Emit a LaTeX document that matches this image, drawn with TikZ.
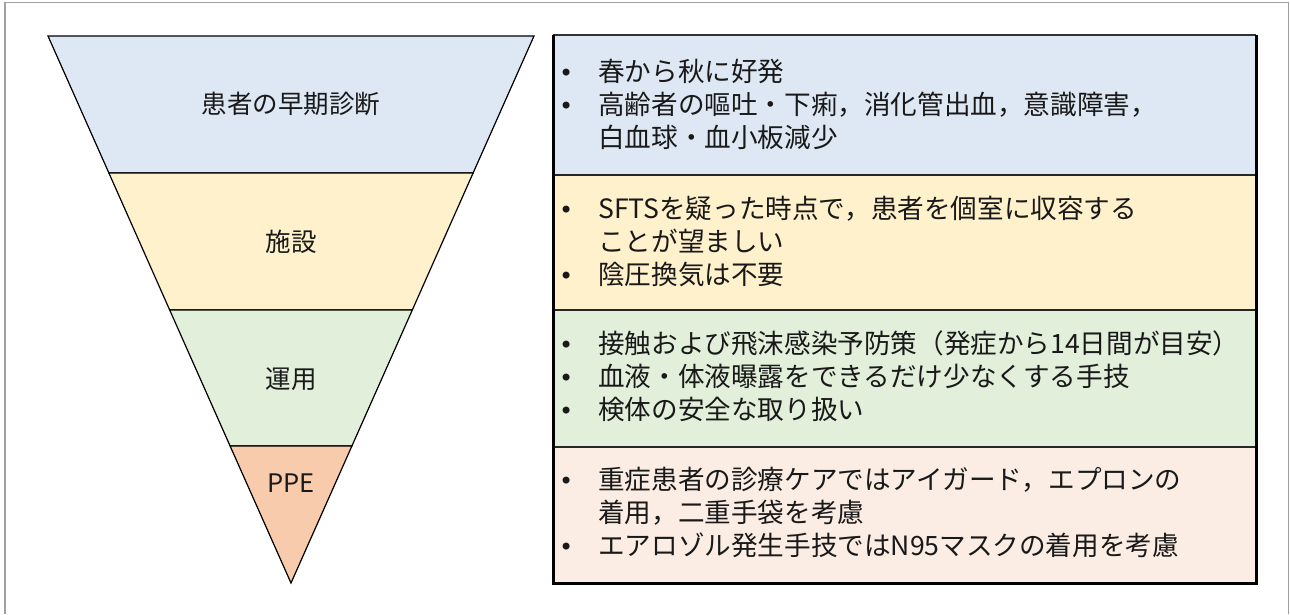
\documentclass[tikz,border=0pt]{standalone}
\usepackage{fontspec}
\setmainfont{Noto Sans CJK JP}
\newfontfamily\bulletfont{DejaVu Sans}
\usepackage{array}
\definecolor{blueF}{HTML}{DDE8F4}
\definecolor{yellowF}{HTML}{FFF1CC}
\definecolor{greenF}{HTML}{E2EFDA}
\definecolor{orangeT}{HTML}{F8CBAD}
\definecolor{orangeB}{HTML}{FBEDE4}
\definecolor{frameC}{HTML}{A0A0A0}
\newcommand{\bul}{\hspace*{1pt}{\fontsize{24}{24}\bulletfont •}}
\begin{document}
\begin{tikzpicture}[x=1pt,y=-1pt,
  band/.style={draw=black,line width=1.2pt,line join=miter},
  lbl/.style={inner sep=0pt,font=\fontsize{25.5}{30}\selectfont,text=black!90},
  txt/.style={inner sep=0pt,anchor=west,font=\fontsize{26.6}{33}\selectfont,text=black!90},
  sep/.style={draw=black!85,line width=1.8pt},
  heavy/.style={draw=black,line width=3pt}]
\useasboundingbox (0,0) rectangle (1290,614);
\fill[white] (0,0) rectangle (1290,614);
% outer frame
\draw[frameC,line width=1.5pt] (5,614) -- (5,2.5) -- (1288.5,2.5) -- (1288.5,614);
% funnel
\filldraw[band,fill=blueF] (48,36) -- (534,36) -- (473.1,173) -- (108.9,173) -- cycle;
\filldraw[band,fill=yellowF] (108.9,173) -- (473.1,173) -- (412.3,310) -- (169.7,310) -- cycle;
\filldraw[band,fill=greenF] (169.7,310) -- (412.3,310) -- (351.9,446) -- (230.1,446) -- cycle;
\filldraw[band,fill=orangeT] (230.1,446) -- (351.9,446) -- (291,583) -- cycle;
\node[lbl] (l1) at (291,104) {患者の早期診断};
\node[lbl] (l2) at (291,242) {施設};
\node[lbl] (l3) at (291,379) {運用};
\node[lbl] (l4) at (291,483) {PPE};
% boxes
\fill[blueF] (553,35) rectangle (1256,175);
\fill[yellowF] (553,175) rectangle (1256,310);
\fill[greenF] (553,310) rectangle (1256,447);
\fill[orangeB] (553,447) rectangle (1256,583);
\draw[sep] (553,175) -- (1256,175);
\draw[sep] (553,310) -- (1256,310);
\draw[sep] (553,447) -- (1256,447);
\draw[draw=black!80,line width=1.6pt] (553,35) -- (1256,35);
\draw[heavy] (553,35) -- (553,583) -- (1256,583) -- (1256,35);
% texts
\node[txt] (t1) at (558,108) {\begin{tabular}{@{}p{40pt}@{}l@{}}
\bul & 春から秋に好発\\
\bul & 高齢者の嘔吐・下痢，消化管出血，意識障害，\\
 & 白血球・血小板減少\end{tabular}};
\node[txt] (t2) at (558,245) {\begin{tabular}{@{}p{40pt}@{}l@{}}
\bul & SFTSを疑った時点で，患者を個室に収容する\\
 & ことが望ましい\\
\bul & 陰圧換気は不要\end{tabular}};
\node[txt] (t3) at (558,380) {\begin{tabular}{@{}p{40pt}@{}l@{}}
\bul & 接触および飛沫感染予防策（発症から14日間が目安）\\
\bul & 血液・体液曝露をできるだけ少なくする手技\\
\bul & 検体の安全な取り扱い\end{tabular}};
\node[txt] (t4) at (558,516) {\begin{tabular}{@{}p{40pt}@{}l@{}}
\bul & 重症患者の診療ケアではアイガード，エプロンの\\
 & 着用，二重手袋を考慮\\
\bul & エアロゾル発生手技ではN95マスクの着用を考慮\end{tabular}};
\end{tikzpicture}
\end{document}
